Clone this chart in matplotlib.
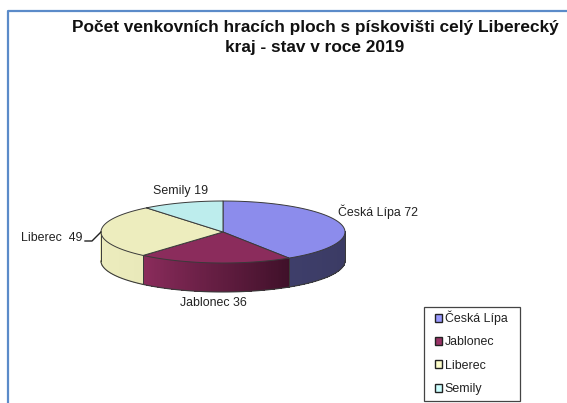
#!/usr/bin/env python3
import numpy as np
import matplotlib
matplotlib.use('Agg')
import matplotlib.pyplot as plt
from matplotlib.colors import to_rgb
from matplotlib.patches import Patch, Rectangle

plt.rcParams['font.family'] = ['Liberation Sans', 'DejaVu Sans']

# data
categories = ['Česká Lípa', 'Jablonec', 'Liberec', 'Semily']
values = [72, 36, 49, 19]
top_colors = ['#8C8CEC', '#8B2C5C', '#EDEDBE', '#BDEDED']
legend_colors = ['#9999FF', '#993366', '#FFFFCC', '#CCFFFF']
side_left = ['#3E3E6A', '#8B2C5C', '#EDEDBE', '#BDEDED']
side_right = ['#3A3A62', '#3F1029', '#E9E9BA', '#BDEDED']
title = 'Počet venkovních hracích ploch s pískovišti celý Liberecký\nkraj - stav v roce 2019'

# pie geometry, in pixels of the picture
CX, CY, A, B, DEPTH = 223, 232, 122, 31, 29
EDGE = '#3a3a3a'


def rim(t):
    # y axis is inverted, t runs clockwise from the top
    return CX + A * np.sin(t), CY - B * np.cos(t)


fig = plt.figure(figsize=(5.67, 4.03), dpi=100)
ax = fig.add_axes([0, 0, 1, 1])
ax.set_xlim(0, 567)
ax.set_ylim(403, 0)
ax.axis('off')

# frame of the pasted chart
ax.plot([8, 8, 567], [403, 11, 11], color='#5B8BC9', lw=1.6, solid_capstyle='butt')

angles = np.cumsum([0] + values) / sum(values) * 2 * np.pi

# side walls first, only the part facing us (pi/2 to 3pi/2 in t)
for i in range(len(values)):
    t0 = max(angles[i], np.pi / 2)
    t1 = min(angles[i + 1], 3 * np.pi / 2)
    if t1 <= t0:
        continue
    ts = np.linspace(t0, t1, 90)
    c0 = np.array(to_rgb(side_left[i]))
    c1 = np.array(to_rgb(side_right[i]))
    for j in range(len(ts) - 1):
        x0, y0 = rim(ts[j])
        x1, y1 = rim(ts[j + 1])
        # gradient runs left to right across the wall
        f = 1 - (ts[j] - t0) / (t1 - t0)
        col = c0 + (c1 - c0) * f
        ax.fill([x0, x1, x1, x0], [y0, y1, y1 + DEPTH - 0.5, y0 + DEPTH - 0.5],
                color=col, lw=0.5, antialiased=False, zorder=2)
    # wall outline
    x, y = rim(ts)
    ax.plot(x, y + DEPTH, color=EDGE, lw=0.8, zorder=3)
    ax.plot([x[0], x[0]], [y[0], y[0] + DEPTH], color=EDGE, lw=0.7, zorder=3)
    ax.plot([x[-1], x[-1]], [y[-1], y[-1] + DEPTH], color=EDGE, lw=0.7, zorder=3)

# top faces
for i in range(len(values)):
    ts = np.linspace(angles[i], angles[i + 1], 120)
    x, y = rim(ts)
    ax.fill(np.r_[CX, x], np.r_[CY, y], facecolor=top_colors[i],
            edgecolor=EDGE, lw=0.7, joinstyle='round', zorder=4)

# data labels
lab = dict(fontsize=8.9, color='#222222', zorder=6)
ax.text(338, 212, f'{categories[0]} {values[0]}', ha='left', va='center', **lab)
ax.text(213, 303, f'{categories[1]} {values[1]}', ha='center', va='center', **lab)
ax.text(21, 238, f'{categories[2]}  {values[2]}', ha='left', va='center', **lab)
ax.text(181, 191, f'{categories[3]} {values[3]}', ha='center', va='center', **lab)
ax.plot([85, 92, 101], [241, 241, 232], color='#222222', lw=1.0, zorder=6)

ax.text(315, 37.5, title, ha='center', va='center', fontsize=12.4,
        fontweight='bold', color='#111111', linespacing=1.42)

# legend, box drawn apart because its padding is not even
ax.add_patch(Rectangle((424, 307), 96, 94, facecolor='white', edgecolor='#444444',
                       lw=0.9, zorder=5))
handles = [Patch(facecolor=c, edgecolor='#222222', lw=1.0) for c in legend_colors]
leg = ax.legend(handles, categories, loc='lower left', bbox_to_anchor=(435, 395),
                bbox_transform=ax.transData, fontsize=8.9, frameon=False, borderpad=0,
                borderaxespad=0, labelspacing=0.915, handlelength=0.55,
                handleheight=0.62, handletextpad=0.22)
leg.set_zorder(6)
for t in leg.get_texts():
    t.set_color('#222222')

fig.savefig('out.png', dpi=100)
plt.close()
